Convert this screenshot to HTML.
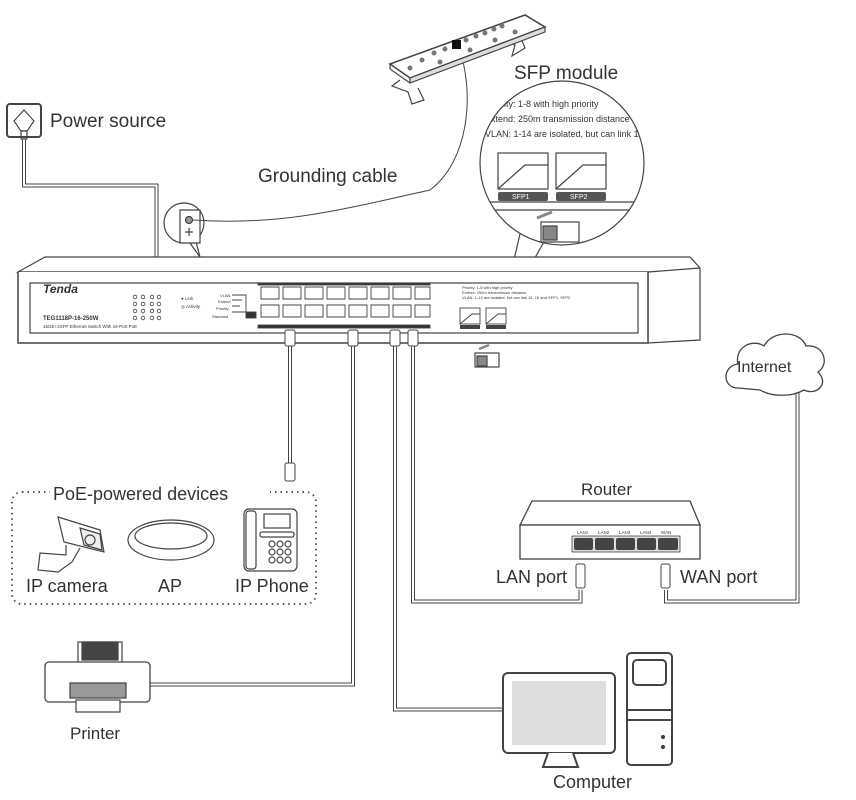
<!DOCTYPE html>
<html><head><meta charset="utf-8"><style>
html,body{margin:0;padding:0;background:#fff;}
svg{display:block;font-family:"Liberation Sans",sans-serif;}
</style></head><body>
<svg width="856" height="800" viewBox="0 0 856 800" xmlns="http://www.w3.org/2000/svg">
<defs>
<clipPath id="cc"><circle cx="562" cy="163" r="82"/></clipPath>
</defs>
<g fill="none" stroke="#444" stroke-width="1.2">
<!-- power outlet -->
<rect x="7" y="104" width="34" height="33" rx="3" stroke-width="2"/>
<path d="M24 110 L34 121 L27 131 L21 131 L14 121 Z"/>
<rect x="21" y="131" width="6" height="8"/>
<path d="M22.5 139 V187 H155 V258 M25.5 139 V184 H158 V258" stroke-width="1"/>
<!-- ground bubble -->
<path d="M195 238 L200 257 L190 243" fill="#fff"/>
<circle cx="184" cy="223" r="20" fill="#fff"/>
<path d="M180 210 H200 V243 H180 Z" fill="#fff"/>
<circle cx="189" cy="220" r="3.5" fill="#999"/>
<path d="M189 228 V236 M185 232 H193"/>
<path d="M193 220 C280 226 340 210 430 190 C470 160 475 90 458 45" stroke-width="1"/>
<!-- grounding bar -->
<path d="M400 80 L392 86 L408 92 L412 104 L424 100 L418 88" fill="#fff"/>
<path d="M500 40 L515 45 L512 56 L525 48 L520 36" fill="#fff"/>
<path d="M390 64 L525 15 L545 27 L410 78 Z" fill="#fff" stroke-width="1.5"/>
<path d="M410 78 L545 27 L545 32 L410 83 Z" fill="#ddd"/>
<path d="M390 64 L390 69 L410 83"/>
<g fill="#777" stroke="none">
<circle cx="410" cy="68" r="2.5"/><circle cx="422" cy="60" r="2.5"/><circle cx="434" cy="53" r="2.5"/><circle cx="445" cy="49" r="2.5"/><circle cx="456" cy="44" r="2.5"/><circle cx="466" cy="40" r="2.5"/><circle cx="476" cy="36" r="2.5"/><circle cx="485" cy="33" r="2.5"/><circle cx="494" cy="29" r="2.5"/><circle cx="502" cy="26" r="2.5"/>
<circle cx="440" cy="62" r="2.5"/><circle cx="470" cy="50" r="2.5"/><circle cx="495" cy="40" r="2.5"/><circle cx="515" cy="32" r="2.5"/>
<rect x="452" y="40" width="9" height="9" fill="#111"/>
</g>
<!-- SFP callout -->
<path d="M520 234 L500 320 L545 240" fill="#fff"/>
<circle cx="562" cy="163" r="82" fill="#fff"/>
<g clip-path="url(#cc)">
<rect x="498" y="153" width="50" height="36"/><path d="M498 189 L525 165 H548"/>
<rect x="556" y="153" width="50" height="36"/><path d="M556 189 L583 165 H606"/>
<path d="M470 202 H660 M470 210 H660"/>
</g>
<rect x="498" y="192" width="50" height="9" rx="2" fill="#555" stroke="none"/>
<rect x="556" y="192" width="50" height="9" rx="2" fill="#555" stroke="none"/>
<rect x="541" y="222" width="38" height="20" fill="#fff"/>
<rect x="543" y="226" width="14" height="14" fill="#888"/>
<path d="M537 218 L552 212" stroke="#888" stroke-width="3"/>
<!-- switch -->
<path d="M18 272 L45 257 L690 257 L700 268 L700 340 L648 343 L648 272 Z" fill="#fff"/>
<path d="M18 272 H648 L700 268" />
<path d="M18 272 L18 343 H648 V272" fill="#fff" stroke-width="1.5"/>
<rect x="30" y="283" width="608" height="50"/>
<!-- ports -->
<g stroke-width="0.9">
<rect x="258" y="283" width="172" height="2" fill="#333"/>
<rect x="258" y="325" width="172" height="3" fill="#333"/>
<path d="M261 287 h18 v12 h-18z M283 287 h18 v12 h-18z M305 287 h18 v12 h-18z M327 287 h18 v12 h-18z M349 287 h18 v12 h-18z M371 287 h18 v12 h-18z M393 287 h18 v12 h-18z M415 287 h15 v12 h-15z"/>
<path d="M261 305 h18 v12 h-18z M283 305 h18 v12 h-18z M305 305 h18 v12 h-18z M327 305 h18 v12 h-18z M349 305 h18 v12 h-18z M371 305 h18 v12 h-18z M393 305 h18 v12 h-18z M415 305 h15 v12 h-15z"/>
<rect x="460" y="308" width="20" height="16"/><path d="M460 324 L472 314 H480"/>
<rect x="486" y="308" width="20" height="16"/><path d="M486 324 L498 314 H506"/>
<rect x="246" y="312" width="10" height="6" fill="#333"/>
<path d="M232 295 H246 V318 M232 300 H242 M232 306 H240 M232 312 H246"/>
</g>
<rect x="460" y="325" width="20" height="4" fill="#444" stroke="none"/>
<rect x="486" y="325" width="20" height="4" fill="#444" stroke="none"/>
<g fill="#fff" stroke-width="0.8">
<circle cx="152" cy="297" r="1.8"/><circle cx="159" cy="297" r="1.8"/><circle cx="135" cy="297" r="1.8"/><circle cx="143" cy="297" r="1.8"/>
<circle cx="135" cy="304" r="1.8"/><circle cx="143" cy="304" r="1.8"/><circle cx="152" cy="304" r="1.8"/><circle cx="159" cy="304" r="1.8"/>
<circle cx="135" cy="311" r="1.8"/><circle cx="143" cy="311" r="1.8"/><circle cx="152" cy="311" r="1.8"/><circle cx="159" cy="311" r="1.8"/>
<circle cx="135" cy="318" r="1.8"/><circle cx="143" cy="318" r="1.8"/><circle cx="152" cy="318" r="1.8"/><circle cx="159" cy="318" r="1.8"/>
</g>
<!-- sfp module under switch -->
<rect x="475" y="353" width="24" height="14" fill="#fff"/><rect x="477" y="356" width="10" height="10" fill="#888"/>
<path d="M479 349 L489 345" stroke="#888" stroke-width="2.5"/>
<!-- cables from switch -->
<g stroke-width="1">
<path d="M288.5 345 V463 M291.5 345 V463"/>
<path d="M351.5 345 V683 H150 M354.5 345 V686 H150"/>
<path d="M393.5 345 V711 H502 M396.5 345 V708 H502"/>
<path d="M411.5 345 V603 H582 V590 M414.5 345 V600 H579 V590"/>
<path d="M664.5 590 V603 H799 V385 M667.5 590 V600 H796 V385"/>
</g>
<g fill="#fff" stroke-width="1">
<rect x="285" y="330" width="10" height="16" rx="2"/>
<rect x="348" y="330" width="10" height="16" rx="2"/>
<rect x="390" y="330" width="10" height="16" rx="2"/>
<rect x="408" y="330" width="10" height="16" rx="2"/>
<rect x="285" y="463" width="10" height="18" rx="2"/>
<rect x="576" y="564" width="9" height="24" rx="2"/>
<rect x="661" y="564" width="9" height="24" rx="2"/>
</g>
<!-- internet cloud -->
<path d="M738 388 C722 388 722 366 738 364 C734 348 752 338 764 346 C772 330 800 330 806 346 C824 344 830 364 818 372 C830 384 816 396 804 390 C790 398 770 396 760 390 Z" fill="#fff" stroke-width="1.3"/>
<!-- router -->
<path d="M520 525 L532 501 H690 L700 525 Z" fill="#fff" stroke-width="1.3"/>
<rect x="520" y="525" width="180" height="34" fill="#fff" stroke-width="1.3"/>
<rect x="572" y="536" width="108" height="16" fill="#ddd" stroke-width="0.8"/>
<g fill="#444" stroke="none"><rect x="574" y="538" width="19" height="12" rx="2"/><rect x="595" y="538" width="19" height="12" rx="2"/><rect x="616" y="538" width="19" height="12" rx="2"/><rect x="637" y="538" width="19" height="12" rx="2"/><rect x="658" y="538" width="20" height="12" rx="2"/></g>
<!-- PoE box -->
<rect x="12" y="492" width="304" height="112" rx="10" stroke-dasharray="1.5 4" stroke-width="2" stroke="#555"/>
<!-- camera -->
<path d="M58 517 L100 530 L104 552 L64 542 Z" fill="#fff"/>
<path d="M80 528 L100 534 L102 550 L84 545 Z" fill="#eee"/>
<circle cx="90" cy="540" r="5"/>
<path d="M66 545 L66 555 L40 553 L38 570 L58 572 L72 562 L80 548"/>
<!-- AP -->
<ellipse cx="171" cy="540" rx="43" ry="20" fill="#fff"/>
<ellipse cx="171" cy="536" rx="36" ry="13"/>
<!-- phone -->
<rect x="244" y="509" width="53" height="62" rx="5" fill="#fff"/>
<rect x="246" y="511" width="10" height="58" rx="3"/>
<rect x="264" y="514" width="26" height="14"/>
<g fill="#fff"><rect x="260" y="532" width="34" height="5" rx="2"/><circle cx="272" cy="544" r="3"/><circle cx="280" cy="544" r="3"/><circle cx="288" cy="544" r="3"/><circle cx="272" cy="552" r="3"/><circle cx="280" cy="552" r="3"/><circle cx="288" cy="552" r="3"/><circle cx="272" cy="560" r="3"/><circle cx="280" cy="560" r="3"/><circle cx="288" cy="560" r="3"/></g>
<!-- printer -->
<rect x="78" y="642" width="44" height="25" fill="#fff"/>
<rect x="82" y="642" width="36" height="18" fill="#444"/>
<rect x="45" y="662" width="105" height="40" rx="4" fill="#fff" stroke-width="1.3"/>
<rect x="70" y="683" width="56" height="15" fill="#999"/>
<rect x="76" y="700" width="44" height="12" fill="#fff"/>
<!-- computer -->
<rect x="503" y="673" width="112" height="80" rx="5" fill="#fff" stroke-width="2"/>
<rect x="512" y="681" width="94" height="64" fill="#ddd" stroke="none"/>
<path d="M548 753 L543 767 H578 L573 753" fill="#fff" stroke-width="2"/>
<rect x="627" y="653" width="45" height="112" rx="4" fill="#fff" stroke-width="2"/>
<rect x="633" y="660" width="33" height="25" rx="4" stroke-width="2"/>
<path d="M627 710 H672 M627 720 H672" stroke-width="2"/>
<circle cx="663" cy="737" r="1.5" fill="#444"/><circle cx="663" cy="747" r="1.5" fill="#444"/>
</g>
<!-- text -->
<g fill="#333">
<text x="50" y="127" font-size="19">Power source</text>
<text x="258" y="182" font-size="19">Grounding cable</text>
<text x="514" y="79" font-size="19">SFP module</text>
<g clip-path="url(#cc)" font-size="9">
<text x="485" y="107">Priority: 1-8 with high priority</text>
<text x="485" y="122">Extend: 250m transmission distance</text>
<text x="485" y="137">VLAN: 1-14 are isolated, but can link 15</text>
</g>
<text x="512" y="199" font-size="7" fill="#fff">SFP1</text>
<text x="570" y="199" font-size="7" fill="#fff">SFP2</text>
<text x="43" y="293" font-size="12" font-style="italic" font-weight="bold">Tenda</text>
<text x="43" y="320" font-size="6" font-weight="bold">TEG1118P-16-250W</text>
<text x="43" y="328" font-size="4.5">16GE+2SFP Ethernet Switch With 16-Port PoE</text>
<text x="181" y="300" font-size="4.5">● Link</text>
<text x="181" y="308" font-size="4.5">◎ Activity</text>
<text x="220" y="297" font-size="4">VLAN</text><text x="218" y="303" font-size="4">Extend</text><text x="216" y="310" font-size="4">Priority</text><text x="212" y="318" font-size="4">Standard</text>
<text x="462" y="289" font-size="4">Priority: 1-8 with high priority</text>
<text x="462" y="294" font-size="4">Extend: 250m transmission distance</text>
<text x="462" y="299" font-size="4">VLAN: 1-14 are isolated, but can link 15, 16 and SFP1, SFP2</text>
<text x="737" y="372" font-size="16">Internet</text>
<text x="581" y="495" font-size="17">Router</text>
<g font-size="4.5"><text x="577" y="534">LAN1</text><text x="598" y="534">LAN2</text><text x="619" y="534">LAN3</text><text x="640" y="534">LAN4</text><text x="661" y="534">WAN</text></g>
<text x="496" y="583" font-size="18">LAN port</text>
<text x="680" y="583" font-size="18">WAN port</text>
<rect x="50" y="484" width="220" height="16" fill="#fff"/>
<text x="53" y="500" font-size="18">PoE-powered devices</text>
<text x="26" y="592" font-size="18">IP camera</text>
<text x="158" y="592" font-size="18">AP</text>
<text x="235" y="592" font-size="18">IP Phone</text>
<text x="70" y="739" font-size="17">Printer</text>
<text x="553" y="788" font-size="18">Computer</text>
</g>
</svg>
</body></html>
